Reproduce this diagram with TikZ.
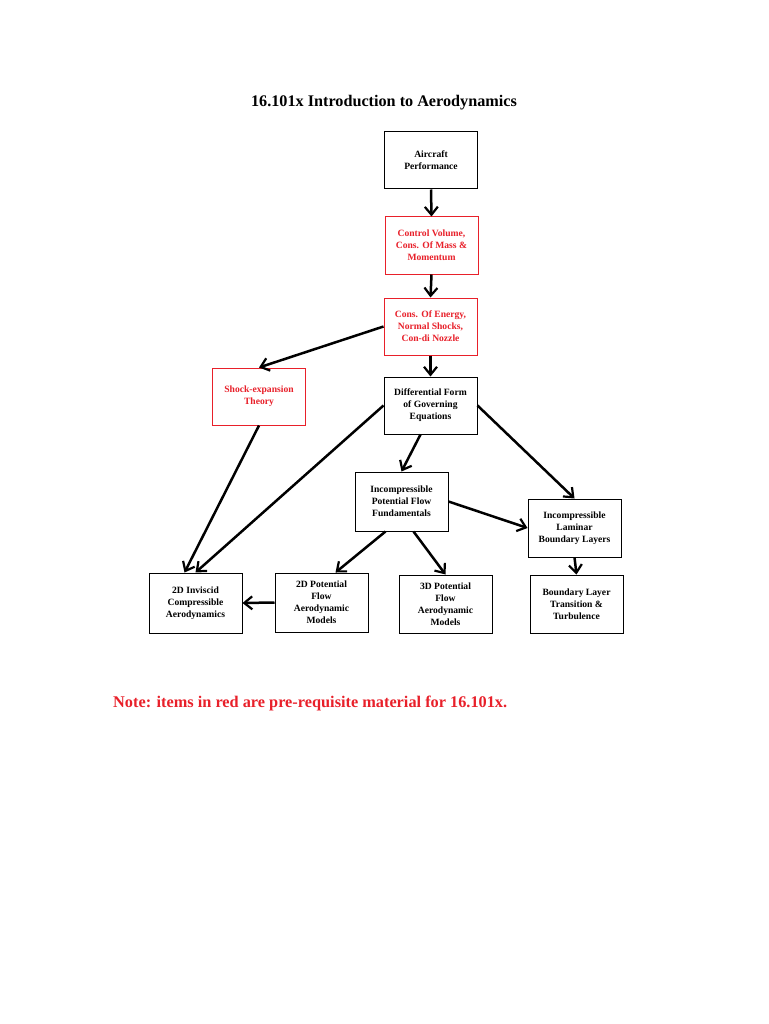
\documentclass[tikz,border=0pt]{standalone}
\usepackage{fontspec}
\setmainfont{Liberation Serif}
\definecolor{prered}{HTML}{E8202A}
\usetikzlibrary{arrows.meta}
\usetikzlibrary{calc}
\tikzstyle{box} = [draw=black, line width=1pt, fill=white, rectangle, minimum width=93pt, minimum height=57pt, align=center, inner sep=2pt, font=\bfseries\fontsize{9.6}{12}\selectfont]
\tikzstyle{prereq} = [text=prered, draw=prered]
\tikzstyle{flow} = [line width=2.5pt, -{Straight Barb[length=8pt,width=13pt,line width=2.2pt]}]

\begin{document}
\begin{tikzpicture}[x=1pt, y=-1pt]
  \useasboundingbox (0,0) rectangle (768,1024);
  \node (title) [font=\bfseries\fontsize{16.2}{18}\selectfont] at (384,103) {16.101x Introduction to Aerodynamics};

  \node (perf) [box] at (431,160.5) {Aircraft\\Performance};
  \node (cv) [box, prereq] at (431.5,245.5) {Control Volume,\\Cons. Of Mass \&\\Momentum};
  \node (energy) [box, prereq] at (430.5,326.5) {Cons. Of Energy,\\Normal Shocks,\\Con-di Nozzle};
  \node (shock) [box, prereq] at (259,396.5) {Shock-expansion\\Theory};
  \node (diff) [box] at (430.5,405.5) {Differential Form\\of Governing\\Equations};
  \node (ipf) [box, minimum height=59pt] at (401.5,501.5) {Incompressible\\Potential Flow\\Fundamentals};
  \node (lbl) [box, minimum height=58pt] at (574.5,528) {Incompressible\\Laminar\\Boundary Layers};
  \node (inv) [box, minimum height=60pt] at (195.5,603) {2D Inviscid\\Compressible\\Aerodynamics};
  \node (pot2) [box, minimum height=59pt] at (321.5,602.5) {2D Potential\\Flow\\Aerodynamic\\Models};
  \node (pot3) [box, minimum height=58pt] at (445.5,604) {3D Potential\\Flow\\Aerodynamic\\Models};
  \node (trans) [box, minimum height=58pt] at (576.5,604) {Boundary Layer\\Transition \&\\Turbulence};

  % connectors
  \draw[flow] (perf.south) -- (cv.north);
  \draw[flow] (cv.south) -- (energy.north);
  \draw[flow] (energy.west) -- (shock.north);
  \draw[flow] (energy.south) -- (diff.north);
  \draw[flow] (shock.south) -- ($(inv.north)+(-11,0)$);
  \draw[flow] (diff.west) -- (inv.north);
  \draw[flow] ($(diff.south)+(-10,0)$) -- (ipf.north);
  \draw[flow] (diff.east) -- (lbl.north);
  \draw[flow] (ipf.east) -- (lbl.west);
  \draw[flow] ($(ipf.south)+(-16,0)$) -- ($(pot2.north)+(14,0)$);
  \draw[flow] ($(ipf.south)+(12,0)$) -- (pot3.north);
  \draw[flow] (lbl.south) -- (trans.north);
  \draw[flow] (pot2.west) -- (inv.east);

  \node (note) [text=prered, anchor=west, inner sep=0pt, font=\bfseries\fontsize{16.3}{18}\selectfont] at (113,703) {Note: items in red are pre-requisite material for 16.101x.};
\end{tikzpicture}
\end{document}
